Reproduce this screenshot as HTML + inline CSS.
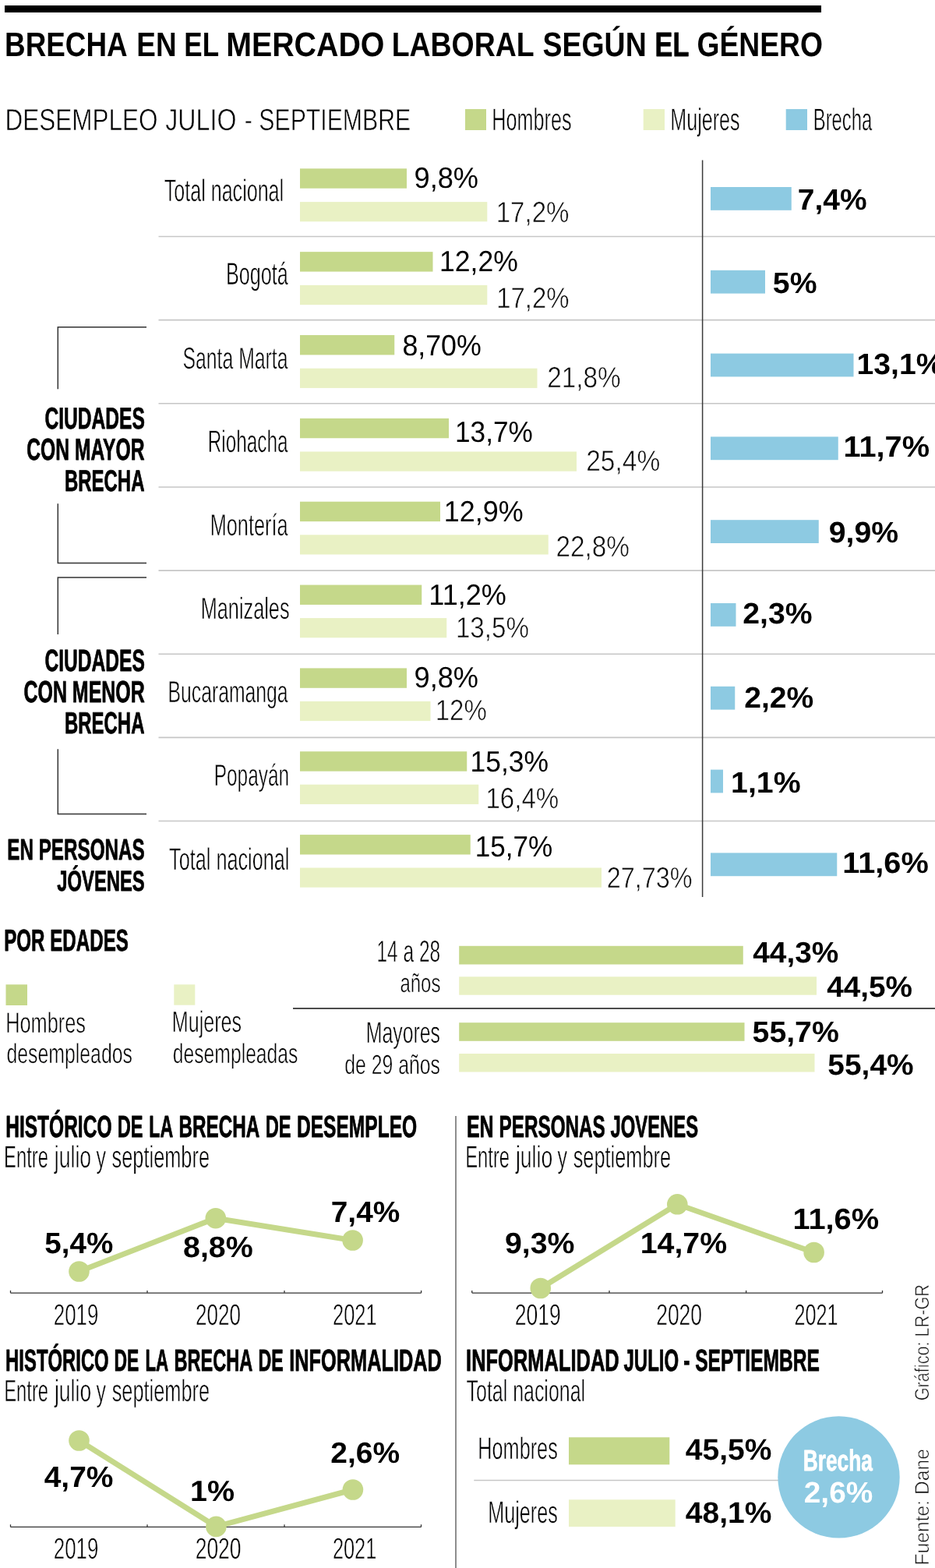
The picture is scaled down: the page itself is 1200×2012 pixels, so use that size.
<!DOCTYPE html>
<html><head><meta charset="utf-8"><title>Brecha en el mercado laboral según el género</title>
<style>html,body{margin:0;padding:0;background:#fff;}body{width:1200px;height:2012px;overflow:hidden;}
svg{display:block;font-family:"Liberation Sans",Arial,sans-serif;}text{text-rendering:geometricPrecision;}</style></head>
<body><svg width="1200" height="2012" viewBox="0 0 1200 2012">
<rect width="1200" height="2012" fill="#fff"/>
<rect x="6.00" y="7.00" width="1048.00" height="9.00" fill="#000"/>
<rect x="597.00" y="140.00" width="27.00" height="27.00" fill="#c5d88a"/>
<rect x="825.70" y="140.00" width="27.30" height="27.00" fill="#e9f1c4"/>
<rect x="1008.70" y="140.00" width="27.30" height="27.00" fill="#8dcae2"/>
<line x1="203.5" y1="303.50" x2="1200" y2="303.50" stroke="#c6c6c6" stroke-width="1.6"/>
<line x1="203.5" y1="410.65" x2="1200" y2="410.65" stroke="#c6c6c6" stroke-width="1.6"/>
<line x1="203.5" y1="517.80" x2="1200" y2="517.80" stroke="#c6c6c6" stroke-width="1.6"/>
<line x1="203.5" y1="624.95" x2="1200" y2="624.95" stroke="#c6c6c6" stroke-width="1.6"/>
<line x1="203.5" y1="732.10" x2="1200" y2="732.10" stroke="#c6c6c6" stroke-width="1.6"/>
<line x1="203.5" y1="839.25" x2="1200" y2="839.25" stroke="#c6c6c6" stroke-width="1.6"/>
<line x1="203.5" y1="946.40" x2="1200" y2="946.40" stroke="#c6c6c6" stroke-width="1.6"/>
<line x1="203.5" y1="1053.55" x2="1200" y2="1053.55" stroke="#c6c6c6" stroke-width="1.6"/>
<line x1="901.6" y1="205.4" x2="901.6" y2="1151" stroke="#3a3a3a" stroke-width="1.5"/>
<rect x="385.00" y="216.30" width="137.00" height="25.40" fill="#c5d88a"/>
<rect x="385.00" y="259.10" width="240.30" height="25.20" fill="#e9f1c4"/>
<rect x="912.00" y="240.00" width="103.75" height="29.80" fill="#8dcae2"/>
<rect x="385.00" y="323.15" width="170.50" height="25.40" fill="#c5d88a"/>
<rect x="385.00" y="365.90" width="240.30" height="25.20" fill="#e9f1c4"/>
<rect x="912.00" y="346.80" width="70.00" height="29.80" fill="#8dcae2"/>
<rect x="385.00" y="430.00" width="121.25" height="25.40" fill="#c5d88a"/>
<rect x="385.00" y="472.70" width="304.50" height="25.20" fill="#e9f1c4"/>
<rect x="912.00" y="453.60" width="183.50" height="29.80" fill="#8dcae2"/>
<rect x="385.00" y="536.85" width="191.00" height="25.40" fill="#c5d88a"/>
<rect x="385.00" y="579.50" width="355.00" height="25.20" fill="#e9f1c4"/>
<rect x="912.00" y="560.40" width="163.75" height="29.80" fill="#8dcae2"/>
<rect x="385.00" y="643.70" width="180.00" height="25.40" fill="#c5d88a"/>
<rect x="385.00" y="686.30" width="318.75" height="25.20" fill="#e9f1c4"/>
<rect x="912.00" y="667.20" width="138.75" height="29.80" fill="#8dcae2"/>
<rect x="385.00" y="750.55" width="156.25" height="25.40" fill="#c5d88a"/>
<rect x="385.00" y="793.10" width="188.25" height="25.20" fill="#e9f1c4"/>
<rect x="912.00" y="774.00" width="32.50" height="29.80" fill="#8dcae2"/>
<rect x="385.00" y="857.40" width="137.00" height="25.40" fill="#c5d88a"/>
<rect x="385.00" y="899.90" width="167.50" height="25.20" fill="#e9f1c4"/>
<rect x="912.00" y="880.80" width="31.25" height="29.80" fill="#8dcae2"/>
<rect x="385.00" y="964.25" width="214.25" height="25.40" fill="#c5d88a"/>
<rect x="385.00" y="1006.70" width="229.25" height="25.20" fill="#e9f1c4"/>
<rect x="912.00" y="987.60" width="16.00" height="29.80" fill="#8dcae2"/>
<rect x="385.00" y="1071.10" width="218.75" height="25.40" fill="#c5d88a"/>
<rect x="385.00" y="1113.50" width="387.00" height="25.20" fill="#e9f1c4"/>
<rect x="912.00" y="1094.40" width="162.25" height="29.80" fill="#8dcae2"/>
<polyline points="188,419.7 74.3,419.7 74.3,499.2" fill="none" stroke="#333" stroke-width="1.5"/>
<polyline points="74.3,646.3 74.3,722.4 188,722.4" fill="none" stroke="#333" stroke-width="1.5"/>
<polyline points="188,741 74.3,741 74.3,814" fill="none" stroke="#333" stroke-width="1.5"/>
<polyline points="74.3,961.2 74.3,1044.5 188,1044.5" fill="none" stroke="#333" stroke-width="1.5"/>
<rect x="7.50" y="1263.30" width="27.50" height="26.70" fill="#c5d88a"/>
<rect x="223.30" y="1263.30" width="27.00" height="26.40" fill="#e9f1c4"/>
<rect x="589.20" y="1213.80" width="364.55" height="23.70" fill="#c5d88a"/>
<rect x="589.20" y="1253.30" width="458.80" height="23.40" fill="#e9f1c4"/>
<rect x="589.20" y="1312.20" width="366.30" height="23.60" fill="#c5d88a"/>
<rect x="589.20" y="1352.00" width="456.30" height="23.50" fill="#e9f1c4"/>
<line x1="376" y1="1294" x2="1200" y2="1294" stroke="#111" stroke-width="1.4"/>
<line x1="585" y1="1432" x2="585" y2="2012" stroke="#7a7a7a" stroke-width="1.7"/>
<line x1="13.5" y1="1659.1" x2="540.6" y2="1659.1" stroke="#333" stroke-width="1.4"/>
<line x1="13.5" y1="1655.8999999999999" x2="13.5" y2="1659.1" stroke="#333" stroke-width="1.3"/>
<line x1="189" y1="1655.8999999999999" x2="189" y2="1659.1" stroke="#333" stroke-width="1.3"/>
<line x1="365" y1="1655.8999999999999" x2="365" y2="1659.1" stroke="#333" stroke-width="1.3"/>
<line x1="540.6" y1="1655.8999999999999" x2="540.6" y2="1659.1" stroke="#333" stroke-width="1.3"/>
<polyline points="101.5,1631.5 276.8,1563.2 452.6,1591.5" fill="none" stroke="#c5d88a" stroke-width="7" stroke-linejoin="round"/>
<circle cx="101.5" cy="1631.5" r="13.3" fill="#c5d88a"/>
<circle cx="276.8" cy="1563.2" r="13.3" fill="#c5d88a"/>
<circle cx="452.6" cy="1591.5" r="13.3" fill="#c5d88a"/>
<line x1="605.75" y1="1659.1" x2="1132.5" y2="1659.1" stroke="#333" stroke-width="1.4"/>
<line x1="605.75" y1="1655.8999999999999" x2="605.75" y2="1659.1" stroke="#333" stroke-width="1.3"/>
<line x1="782" y1="1655.8999999999999" x2="782" y2="1659.1" stroke="#333" stroke-width="1.3"/>
<line x1="957.6" y1="1655.8999999999999" x2="957.6" y2="1659.1" stroke="#333" stroke-width="1.3"/>
<line x1="1132.5" y1="1655.8999999999999" x2="1132.5" y2="1659.1" stroke="#333" stroke-width="1.3"/>
<polyline points="693.75,1653 869.3,1545.3 1044.6,1607" fill="none" stroke="#c5d88a" stroke-width="7" stroke-linejoin="round"/>
<circle cx="693.75" cy="1653" r="13.3" fill="#c5d88a"/>
<circle cx="869.3" cy="1545.3" r="13.3" fill="#c5d88a"/>
<circle cx="1044.6" cy="1607" r="13.3" fill="#c5d88a"/>
<line x1="13.5" y1="1959.4" x2="540.5" y2="1959.4" stroke="#333" stroke-width="1.4"/>
<line x1="13.5" y1="1956.2" x2="13.5" y2="1959.4" stroke="#333" stroke-width="1.3"/>
<line x1="189" y1="1956.2" x2="189" y2="1959.4" stroke="#333" stroke-width="1.3"/>
<line x1="365" y1="1956.2" x2="365" y2="1959.4" stroke="#333" stroke-width="1.3"/>
<line x1="540.5" y1="1956.2" x2="540.5" y2="1959.4" stroke="#333" stroke-width="1.3"/>
<polyline points="101.5,1848.5 277.4,1958.9 452.9,1911.5" fill="none" stroke="#c5d88a" stroke-width="7" stroke-linejoin="round"/>
<circle cx="101.5" cy="1848.5" r="13.3" fill="#c5d88a"/>
<circle cx="277.4" cy="1958.9" r="13.3" fill="#c5d88a"/>
<circle cx="452.9" cy="1911.5" r="13.3" fill="#c5d88a"/>
<rect x="730.00" y="1844.30" width="129.30" height="35.00" fill="#c5d88a"/>
<rect x="730.00" y="1924.30" width="136.70" height="34.70" fill="#e9f1c4"/>
<line x1="608.3" y1="1899.5" x2="1000" y2="1899.5" stroke="#c6c6c6" stroke-width="1.6"/>
<circle cx="1076.5" cy="1895.4" r="78.2" fill="#8dcae2"/>
<text x="6.10" y="72.00" font-size="43.80" font-weight="bold" fill="#000" textLength="157.50" lengthAdjust="spacingAndGlyphs">BRECHA</text>
<text x="175.29" y="72.00" font-size="43.80" font-weight="bold" fill="#000" textLength="51.24" lengthAdjust="spacingAndGlyphs">EN</text>
<text x="236.31" y="72.00" font-size="43.80" font-weight="bold" fill="#000" textLength="44.79" lengthAdjust="spacingAndGlyphs">EL</text>
<text x="290.14" y="72.00" font-size="43.80" font-weight="bold" fill="#000" textLength="203.36" lengthAdjust="spacingAndGlyphs">MERCADO</text>
<text x="502.66" y="72.00" font-size="43.80" font-weight="bold" fill="#000" textLength="182.98" lengthAdjust="spacingAndGlyphs">LABORAL</text>
<text x="696.62" y="72.00" font-size="43.80" font-weight="bold" fill="#000" textLength="133.05" lengthAdjust="spacingAndGlyphs">SEGÚN</text>
<text x="840.61" y="72.00" font-size="43.80" font-weight="bold" fill="#000" stroke="#000" stroke-width="0.8" stroke-linejoin="round" textLength="43.67" lengthAdjust="spacingAndGlyphs">EL</text>
<text x="894.43" y="72.00" font-size="43.80" font-weight="bold" fill="#000" textLength="161.60" lengthAdjust="spacingAndGlyphs">GÉNERO</text>
<text x="6.44" y="166.70" font-size="39.11" font-weight="normal" fill="#000001" stroke="#fff" stroke-width="0.6" textLength="196.03" lengthAdjust="spacingAndGlyphs">DESEMPLEO</text>
<text x="212.30" y="166.70" font-size="39.11" font-weight="normal" fill="#000001" stroke="#fff" stroke-width="0.6" textLength="91.10" lengthAdjust="spacingAndGlyphs">JULIO</text>
<text x="313.86" y="166.70" font-size="39.11" font-weight="normal" fill="#000001" stroke="#fff" stroke-width="0.6" textLength="213.31" lengthAdjust="spacingAndGlyphs">- SEPTIEMBRE</text>
<text x="631.33" y="167.00" font-size="40.11" font-weight="normal" fill="#000001" stroke="#fff" stroke-width="0.6" textLength="102.15" lengthAdjust="spacingAndGlyphs">Hombres</text>
<text x="860.34" y="167.00" font-size="40.11" font-weight="normal" fill="#000001" stroke="#fff" stroke-width="0.6" textLength="89.14" lengthAdjust="spacingAndGlyphs">Mujeres</text>
<text x="1043.84" y="167.00" font-size="40.11" font-weight="normal" fill="#000001" stroke="#fff" stroke-width="0.6" textLength="75.31" lengthAdjust="spacingAndGlyphs">Brecha</text>
<text x="210.81" y="258.00" font-size="39.82" font-weight="normal" fill="#000001" stroke="#fff" stroke-width="0.6" textLength="153.34" lengthAdjust="spacingAndGlyphs">Total nacional</text>
<text x="290.03" y="365.30" font-size="40.25" font-weight="normal" fill="#000001" stroke="#fff" stroke-width="0.6" textLength="79.81" lengthAdjust="spacingAndGlyphs">Bogotá</text>
<text x="234.53" y="472.70" font-size="38.97" font-weight="normal" fill="#000001" stroke="#fff" stroke-width="0.6" textLength="135.02" lengthAdjust="spacingAndGlyphs">Santa Marta</text>
<text x="266.80" y="579.80" font-size="39.82" font-weight="normal" fill="#000001" stroke="#fff" stroke-width="0.6" textLength="102.75" lengthAdjust="spacingAndGlyphs">Riohacha</text>
<text x="269.72" y="686.80" font-size="39.11" font-weight="normal" fill="#000001" stroke="#fff" stroke-width="0.6" textLength="99.82" lengthAdjust="spacingAndGlyphs">Montería</text>
<text x="257.72" y="793.80" font-size="39.11" font-weight="normal" fill="#000001" stroke="#fff" stroke-width="0.6" textLength="113.87" lengthAdjust="spacingAndGlyphs">Manizales</text>
<text x="215.57" y="900.80" font-size="39.11" font-weight="normal" fill="#000001" stroke="#fff" stroke-width="0.6" textLength="153.98" lengthAdjust="spacingAndGlyphs">Bucaramanga</text>
<text x="274.79" y="1007.80" font-size="39.11" font-weight="normal" fill="#000001" stroke="#fff" stroke-width="0.6" textLength="96.27" lengthAdjust="spacingAndGlyphs">Popayán</text>
<text x="217.11" y="1115.70" font-size="39.82" font-weight="normal" fill="#000001" stroke="#fff" stroke-width="0.6" textLength="154.26" lengthAdjust="spacingAndGlyphs">Total nacional</text>
<text x="531.55" y="240.50" font-size="37.55" font-weight="normal" fill="#000" textLength="82.53" lengthAdjust="spacingAndGlyphs">9,8%</text>
<text x="564.03" y="347.50" font-size="37.55" font-weight="normal" fill="#000" textLength="100.78" lengthAdjust="spacingAndGlyphs">12,2%</text>
<text x="516.38" y="456.00" font-size="37.55" font-weight="normal" fill="#000" textLength="101.43" lengthAdjust="spacingAndGlyphs">8,70%</text>
<text x="584.00" y="566.80" font-size="37.55" font-weight="normal" fill="#000" textLength="99.85" lengthAdjust="spacingAndGlyphs">13,7%</text>
<text x="569.76" y="668.50" font-size="37.55" font-weight="normal" fill="#000" textLength="101.81" lengthAdjust="spacingAndGlyphs">12,9%</text>
<text x="550.25" y="776.25" font-size="37.55" font-weight="normal" fill="#000" textLength="99.58" lengthAdjust="spacingAndGlyphs">11,2%</text>
<text x="531.55" y="882.00" font-size="37.55" font-weight="normal" fill="#000" textLength="82.53" lengthAdjust="spacingAndGlyphs">9,8%</text>
<text x="603.53" y="990.25" font-size="37.55" font-weight="normal" fill="#000" textLength="100.52" lengthAdjust="spacingAndGlyphs">15,3%</text>
<text x="609.81" y="1098.50" font-size="37.55" font-weight="normal" fill="#000" textLength="99.49" lengthAdjust="spacingAndGlyphs">15,7%</text>
<text x="636.68" y="285.00" font-size="37.55" font-weight="normal" fill="#0a0a0a" stroke="#fff" stroke-width="0.6" textLength="93.80" lengthAdjust="spacingAndGlyphs">17,2%</text>
<text x="637.19" y="394.50" font-size="37.55" font-weight="normal" fill="#0a0a0a" stroke="#fff" stroke-width="0.6" textLength="93.29" lengthAdjust="spacingAndGlyphs">17,2%</text>
<text x="702.19" y="497.00" font-size="37.55" font-weight="normal" fill="#0a0a0a" stroke="#fff" stroke-width="0.6" textLength="94.56" lengthAdjust="spacingAndGlyphs">21,8%</text>
<text x="752.18" y="603.50" font-size="37.55" font-weight="normal" fill="#0a0a0a" stroke="#fff" stroke-width="0.6" textLength="95.07" lengthAdjust="spacingAndGlyphs">25,4%</text>
<text x="713.44" y="713.50" font-size="37.55" font-weight="normal" fill="#0a0a0a" stroke="#fff" stroke-width="0.6" textLength="94.56" lengthAdjust="spacingAndGlyphs">22,8%</text>
<text x="584.93" y="818.00" font-size="37.55" font-weight="normal" fill="#0a0a0a" stroke="#fff" stroke-width="0.6" textLength="94.06" lengthAdjust="spacingAndGlyphs">13,5%</text>
<text x="558.69" y="923.75" font-size="37.55" font-weight="normal" fill="#0a0a0a" stroke="#fff" stroke-width="0.6" textLength="66.05" lengthAdjust="spacingAndGlyphs">12%</text>
<text x="623.43" y="1036.50" font-size="37.55" font-weight="normal" fill="#0a0a0a" stroke="#fff" stroke-width="0.6" textLength="93.80" lengthAdjust="spacingAndGlyphs">16,4%</text>
<text x="778.78" y="1138.50" font-size="37.55" font-weight="normal" fill="#0a0a0a" stroke="#fff" stroke-width="0.6" textLength="109.68" lengthAdjust="spacingAndGlyphs">27,73%</text>
<text x="1023.78" y="268.75" font-size="37.83" font-weight="bold" fill="#000" textLength="88.77" lengthAdjust="spacingAndGlyphs">7,4%</text>
<text x="991.89" y="376.25" font-size="37.83" font-weight="bold" fill="#000" textLength="56.67" lengthAdjust="spacingAndGlyphs">5%</text>
<text x="1099.55" y="479.50" font-size="37.83" font-weight="bold" fill="#000" textLength="111.00" lengthAdjust="spacingAndGlyphs">13,1%</text>
<text x="1082.51" y="585.50" font-size="37.83" font-weight="bold" fill="#000" textLength="110.55" lengthAdjust="spacingAndGlyphs">11,7%</text>
<text x="1063.78" y="696.00" font-size="37.83" font-weight="bold" fill="#000" textLength="89.28" lengthAdjust="spacingAndGlyphs">9,9%</text>
<text x="953.28" y="799.50" font-size="37.83" font-weight="bold" fill="#000" textLength="89.28" lengthAdjust="spacingAndGlyphs">2,3%</text>
<text x="955.28" y="907.50" font-size="37.83" font-weight="bold" fill="#000" textLength="89.02" lengthAdjust="spacingAndGlyphs">2,2%</text>
<text x="938.05" y="1016.75" font-size="37.83" font-weight="bold" fill="#000" textLength="89.51" lengthAdjust="spacingAndGlyphs">1,1%</text>
<text x="1081.26" y="1119.75" font-size="37.83" font-weight="bold" fill="#000" textLength="110.55" lengthAdjust="spacingAndGlyphs">11,6%</text>
<text x="57.48" y="549.80" font-size="38.83" font-weight="bold" fill="#000" stroke="#000" stroke-width="0.8" stroke-linejoin="round" textLength="128.47" lengthAdjust="spacingAndGlyphs">CIUDADES</text>
<text x="34.23" y="589.70" font-size="39.04" font-weight="bold" fill="#000" stroke="#000" stroke-width="0.8" stroke-linejoin="round" textLength="151.24" lengthAdjust="spacingAndGlyphs">CON MAYOR</text>
<text x="83.00" y="629.75" font-size="38.40" font-weight="bold" fill="#000" stroke="#000" stroke-width="0.8" stroke-linejoin="round" textLength="102.45" lengthAdjust="spacingAndGlyphs">BRECHA</text>
<text x="57.48" y="861.00" font-size="39.47" font-weight="bold" fill="#000" stroke="#000" stroke-width="0.8" stroke-linejoin="round" textLength="128.47" lengthAdjust="spacingAndGlyphs">CIUDADES</text>
<text x="30.47" y="900.75" font-size="39.04" font-weight="bold" fill="#000" stroke="#000" stroke-width="0.8" stroke-linejoin="round" textLength="155.31" lengthAdjust="spacingAndGlyphs">CON MENOR</text>
<text x="83.00" y="941.25" font-size="39.04" font-weight="bold" fill="#000" stroke="#000" stroke-width="0.8" stroke-linejoin="round" textLength="102.45" lengthAdjust="spacingAndGlyphs">BRECHA</text>
<text x="9.29" y="1102.50" font-size="37.97" font-weight="bold" fill="#000" stroke="#000" stroke-width="0.8" stroke-linejoin="round" textLength="176.35" lengthAdjust="spacingAndGlyphs">EN PERSONAS</text>
<text x="73.30" y="1142.50" font-size="36.69" font-weight="bold" fill="#000" stroke="#000" stroke-width="0.8" stroke-linejoin="round" textLength="112.33" lengthAdjust="spacingAndGlyphs">JÓVENES</text>
<text x="5.19" y="1220.00" font-size="39.11" font-weight="bold" fill="#000" stroke="#000" stroke-width="0.8" stroke-linejoin="round" textLength="159.65" lengthAdjust="spacingAndGlyphs">POR EDADES</text>
<text x="7.22" y="1324.70" font-size="36.98" font-weight="normal" fill="#000001" stroke="#fff" stroke-width="0.6" textLength="102.77" lengthAdjust="spacingAndGlyphs">Hombres</text>
<text x="8.42" y="1364.20" font-size="35.68" font-weight="normal" fill="#000001" stroke="#fff" stroke-width="0.6" textLength="161.55" lengthAdjust="spacingAndGlyphs">desempleados</text>
<text x="220.84" y="1324.20" font-size="37.97" font-weight="normal" fill="#000001" stroke="#fff" stroke-width="0.6" textLength="89.14" lengthAdjust="spacingAndGlyphs">Mujeres</text>
<text x="221.73" y="1364.20" font-size="35.68" font-weight="normal" fill="#000001" stroke="#fff" stroke-width="0.6" textLength="160.74" lengthAdjust="spacingAndGlyphs">desempleadas</text>
<text x="483.47" y="1234.20" font-size="39.11" font-weight="normal" fill="#000001" stroke="#fff" stroke-width="0.6" textLength="81.72" lengthAdjust="spacingAndGlyphs">14 a 28</text>
<text x="513.45" y="1273.30" font-size="33.81" font-weight="normal" fill="#000001" stroke="#fff" stroke-width="0.6" textLength="52.00" lengthAdjust="spacingAndGlyphs">años</text>
<text x="469.76" y="1338.30" font-size="38.40" font-weight="normal" fill="#000001" stroke="#fff" stroke-width="0.6" textLength="95.22" lengthAdjust="spacingAndGlyphs">Mayores</text>
<text x="442.22" y="1378.30" font-size="35.13" font-weight="normal" fill="#000001" stroke="#fff" stroke-width="0.6" textLength="122.75" lengthAdjust="spacingAndGlyphs">de 29 años</text>
<text x="966.25" y="1234.50" font-size="37.69" font-weight="bold" fill="#000" textLength="110.05" lengthAdjust="spacingAndGlyphs">44,3%</text>
<text x="1061.25" y="1278.75" font-size="37.62" font-weight="bold" fill="#000" textLength="109.80" lengthAdjust="spacingAndGlyphs">44,5%</text>
<text x="965.59" y="1336.50" font-size="37.69" font-weight="bold" fill="#000" textLength="111.17" lengthAdjust="spacingAndGlyphs">55,7%</text>
<text x="1062.39" y="1378.75" font-size="37.62" font-weight="bold" fill="#000" textLength="110.16" lengthAdjust="spacingAndGlyphs">55,4%</text>
<text x="7.17" y="1458.80" font-size="39.25" font-weight="bold" fill="#000" stroke="#000" stroke-width="0.8" stroke-linejoin="round" textLength="136.32" lengthAdjust="spacingAndGlyphs">HISTÓRICO</text>
<text x="150.72" y="1458.80" font-size="39.25" font-weight="bold" fill="#000" stroke="#000" stroke-width="0.8" stroke-linejoin="round" textLength="32.90" lengthAdjust="spacingAndGlyphs">DE</text>
<text x="191.35" y="1458.80" font-size="39.25" font-weight="bold" fill="#000" stroke="#000" stroke-width="0.8" stroke-linejoin="round" textLength="30.89" lengthAdjust="spacingAndGlyphs">LA</text>
<text x="229.48" y="1458.80" font-size="39.25" font-weight="bold" fill="#000" stroke="#000" stroke-width="0.8" stroke-linejoin="round" textLength="103.78" lengthAdjust="spacingAndGlyphs">BRECHA</text>
<text x="340.72" y="1458.80" font-size="39.25" font-weight="bold" fill="#000" stroke="#000" stroke-width="0.8" stroke-linejoin="round" textLength="32.90" lengthAdjust="spacingAndGlyphs">DE</text>
<text x="380.96" y="1458.80" font-size="39.25" font-weight="bold" fill="#000" stroke="#000" stroke-width="0.8" stroke-linejoin="round" textLength="154.22" lengthAdjust="spacingAndGlyphs">DESEMPLEO</text>
<text x="5.04" y="1498.00" font-size="39.68" font-weight="normal" fill="#000001" stroke="#fff" stroke-width="0.6" textLength="56.93" lengthAdjust="spacingAndGlyphs">Entre</text>
<text x="69.83" y="1498.00" font-size="39.68" font-weight="normal" fill="#000001" stroke="#fff" stroke-width="0.6" textLength="47.25" lengthAdjust="spacingAndGlyphs">julio</text>
<text x="123.50" y="1498.00" font-size="39.68" font-weight="normal" fill="#000001" stroke="#fff" stroke-width="0.6" textLength="12.50" lengthAdjust="spacingAndGlyphs">y</text>
<text x="143.60" y="1498.00" font-size="39.68" font-weight="normal" fill="#000001" stroke="#fff" stroke-width="0.6" textLength="125.42" lengthAdjust="spacingAndGlyphs">septiembre</text>
<text x="598.94" y="1458.80" font-size="39.25" font-weight="bold" fill="#000" stroke="#000" stroke-width="0.8" stroke-linejoin="round" textLength="34.71" lengthAdjust="spacingAndGlyphs">EN</text>
<text x="640.48" y="1458.80" font-size="39.25" font-weight="bold" fill="#000" stroke="#000" stroke-width="0.8" stroke-linejoin="round" textLength="136.36" lengthAdjust="spacingAndGlyphs">PERSONAS</text>
<text x="783.50" y="1458.80" font-size="39.25" font-weight="bold" fill="#000" stroke="#000" stroke-width="0.8" stroke-linejoin="round" textLength="112.63" lengthAdjust="spacingAndGlyphs">JOVENES</text>
<text x="597.14" y="1498.00" font-size="39.68" font-weight="normal" fill="#000001" stroke="#fff" stroke-width="0.6" textLength="56.93" lengthAdjust="spacingAndGlyphs">Entre</text>
<text x="661.93" y="1498.00" font-size="39.68" font-weight="normal" fill="#000001" stroke="#fff" stroke-width="0.6" textLength="47.25" lengthAdjust="spacingAndGlyphs">julio</text>
<text x="715.60" y="1498.00" font-size="39.68" font-weight="normal" fill="#000001" stroke="#fff" stroke-width="0.6" textLength="12.50" lengthAdjust="spacingAndGlyphs">y</text>
<text x="735.70" y="1498.00" font-size="39.68" font-weight="normal" fill="#000001" stroke="#fff" stroke-width="0.6" textLength="125.42" lengthAdjust="spacingAndGlyphs">septiembre</text>
<text x="57.30" y="1607.80" font-size="37.69" font-weight="bold" fill="#000" textLength="87.95" lengthAdjust="spacingAndGlyphs">5,4%</text>
<text x="235.02" y="1612.50" font-size="37.69" font-weight="bold" fill="#000" textLength="89.74" lengthAdjust="spacingAndGlyphs">8,8%</text>
<text x="424.79" y="1567.70" font-size="37.69" font-weight="bold" fill="#000" textLength="88.46" lengthAdjust="spacingAndGlyphs">7,4%</text>
<text x="68.79" y="1700.10" font-size="38.12" font-weight="normal" fill="#000001" stroke="#fff" stroke-width="0.6" textLength="57.56" lengthAdjust="spacingAndGlyphs">2019</text>
<text x="251.08" y="1700.10" font-size="38.12" font-weight="normal" fill="#000001" stroke="#fff" stroke-width="0.6" textLength="57.87" lengthAdjust="spacingAndGlyphs">2020</text>
<text x="427.01" y="1700.00" font-size="38.12" font-weight="normal" fill="#000001" stroke="#fff" stroke-width="0.6" textLength="56.52" lengthAdjust="spacingAndGlyphs">2021</text>
<text x="647.97" y="1607.80" font-size="37.69" font-weight="bold" fill="#000" textLength="89.58" lengthAdjust="spacingAndGlyphs">9,3%</text>
<text x="821.75" y="1607.75" font-size="37.76" font-weight="bold" fill="#000" textLength="111.31" lengthAdjust="spacingAndGlyphs">14,7%</text>
<text x="1017.51" y="1576.80" font-size="37.69" font-weight="bold" fill="#000" textLength="110.65" lengthAdjust="spacingAndGlyphs">11,6%</text>
<text x="660.76" y="1700.00" font-size="38.12" font-weight="normal" fill="#000001" stroke="#fff" stroke-width="0.6" textLength="59.07" lengthAdjust="spacingAndGlyphs">2019</text>
<text x="842.16" y="1700.10" font-size="38.12" font-weight="normal" fill="#000001" stroke="#fff" stroke-width="0.6" textLength="58.90" lengthAdjust="spacingAndGlyphs">2020</text>
<text x="1019.52" y="1700.10" font-size="38.12" font-weight="normal" fill="#000001" stroke="#fff" stroke-width="0.6" textLength="55.90" lengthAdjust="spacingAndGlyphs">2021</text>
<text x="7.11" y="1758.80" font-size="39.25" font-weight="bold" fill="#000" stroke="#000" stroke-width="0.8" stroke-linejoin="round" textLength="132.56" lengthAdjust="spacingAndGlyphs">HISTÓRICO</text>
<text x="146.57" y="1758.80" font-size="39.25" font-weight="bold" fill="#000" stroke="#000" stroke-width="0.8" stroke-linejoin="round" textLength="31.84" lengthAdjust="spacingAndGlyphs">DE</text>
<text x="186.40" y="1758.80" font-size="39.25" font-weight="bold" fill="#000" stroke="#000" stroke-width="0.8" stroke-linejoin="round" textLength="29.82" lengthAdjust="spacingAndGlyphs">LA</text>
<text x="223.53" y="1758.80" font-size="39.25" font-weight="bold" fill="#000" stroke="#000" stroke-width="0.8" stroke-linejoin="round" textLength="100.72" lengthAdjust="spacingAndGlyphs">BRECHA</text>
<text x="331.55" y="1758.80" font-size="39.25" font-weight="bold" fill="#000" stroke="#000" stroke-width="0.8" stroke-linejoin="round" textLength="32.26" lengthAdjust="spacingAndGlyphs">DE</text>
<text x="371.22" y="1758.80" font-size="39.25" font-weight="bold" fill="#000" stroke="#000" stroke-width="0.8" stroke-linejoin="round" textLength="195.66" lengthAdjust="spacingAndGlyphs">INFORMALIDAD</text>
<text x="5.14" y="1797.90" font-size="39.40" font-weight="normal" fill="#000001" stroke="#fff" stroke-width="0.6" textLength="56.93" lengthAdjust="spacingAndGlyphs">Entre</text>
<text x="69.93" y="1797.90" font-size="39.40" font-weight="normal" fill="#000001" stroke="#fff" stroke-width="0.6" textLength="47.25" lengthAdjust="spacingAndGlyphs">julio</text>
<text x="123.60" y="1797.90" font-size="39.40" font-weight="normal" fill="#000001" stroke="#fff" stroke-width="0.6" textLength="12.50" lengthAdjust="spacingAndGlyphs">y</text>
<text x="143.70" y="1797.90" font-size="39.40" font-weight="normal" fill="#000001" stroke="#fff" stroke-width="0.6" textLength="125.42" lengthAdjust="spacingAndGlyphs">septiembre</text>
<text x="56.70" y="1907.70" font-size="37.69" font-weight="bold" fill="#000" textLength="88.85" lengthAdjust="spacingAndGlyphs">4,7%</text>
<text x="244.03" y="1926.40" font-size="37.55" font-weight="bold" fill="#000" textLength="57.02" lengthAdjust="spacingAndGlyphs">1%</text>
<text x="424.28" y="1876.80" font-size="37.69" font-weight="bold" fill="#000" textLength="88.77" lengthAdjust="spacingAndGlyphs">2,6%</text>
<text x="68.79" y="2000.00" font-size="38.12" font-weight="normal" fill="#000001" stroke="#fff" stroke-width="0.6" textLength="57.56" lengthAdjust="spacingAndGlyphs">2019</text>
<text x="250.66" y="2000.10" font-size="38.12" font-weight="normal" fill="#000001" stroke="#fff" stroke-width="0.6" textLength="58.90" lengthAdjust="spacingAndGlyphs">2020</text>
<text x="426.91" y="2000.10" font-size="38.12" font-weight="normal" fill="#000001" stroke="#fff" stroke-width="0.6" textLength="56.42" lengthAdjust="spacingAndGlyphs">2021</text>
<text x="598.11" y="1758.80" font-size="39.25" font-weight="bold" fill="#000" stroke="#000" stroke-width="0.8" stroke-linejoin="round" textLength="196.57" lengthAdjust="spacingAndGlyphs">INFORMALIDAD</text>
<text x="800.50" y="1758.80" font-size="39.25" font-weight="bold" fill="#000" stroke="#000" stroke-width="0.8" stroke-linejoin="round" textLength="70.67" lengthAdjust="spacingAndGlyphs">JULIO</text>
<text x="877.23" y="1758.80" font-size="39.25" font-weight="bold" fill="#000" stroke="#000" stroke-width="0.8" stroke-linejoin="round" textLength="174.61" lengthAdjust="spacingAndGlyphs">- SEPTIEMBRE</text>
<text x="598.61" y="1797.90" font-size="39.11" font-weight="normal" fill="#000001" stroke="#fff" stroke-width="0.6" textLength="152.43" lengthAdjust="spacingAndGlyphs">Total nacional</text>
<text x="613.33" y="1872.00" font-size="39.54" font-weight="normal" fill="#000001" stroke="#fff" stroke-width="0.6" textLength="102.46" lengthAdjust="spacingAndGlyphs">Hombres</text>
<text x="626.34" y="1953.70" font-size="39.68" font-weight="normal" fill="#000001" stroke="#fff" stroke-width="0.6" textLength="89.45" lengthAdjust="spacingAndGlyphs">Mujeres</text>
<text x="879.80" y="1872.90" font-size="38.12" font-weight="bold" fill="#000" textLength="110.55" lengthAdjust="spacingAndGlyphs">45,5%</text>
<text x="879.80" y="1954.00" font-size="38.12" font-weight="bold" fill="#000" textLength="110.55" lengthAdjust="spacingAndGlyphs">48,1%</text>
<text x="1030.86" y="1886.70" font-size="37.97" font-weight="bold" fill="#fff" stroke="#fff" stroke-width="0.8" stroke-linejoin="round" textLength="88.97" lengthAdjust="spacingAndGlyphs">Brecha</text>
<text x="1031.79" y="1927.50" font-size="37.97" font-weight="bold" fill="#fff" textLength="88.46" lengthAdjust="spacingAndGlyphs">2,6%</text>
<text transform="translate(1192.20,1796.30) rotate(-90)" x="-1.02" y="0" font-size="25.74" fill="#111" stroke="#fff" stroke-width="0.6" textLength="149.27" lengthAdjust="spacingAndGlyphs">Gráfico: LR-GR</text>
<text transform="translate(1192.20,2006.70) rotate(-90)" x="-1.93" y="0" font-size="25.74" fill="#111" stroke="#fff" stroke-width="0.6" textLength="149.63" lengthAdjust="spacingAndGlyphs">Fuente: Dane</text>
</svg></body></html>
